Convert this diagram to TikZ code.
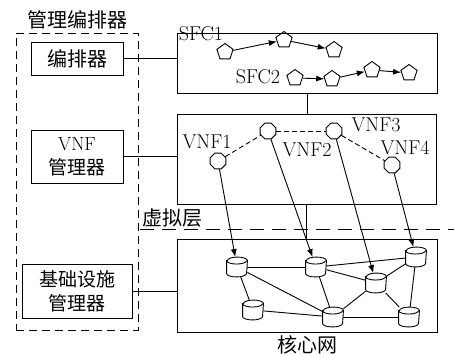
\documentclass[tikz,border=0pt]{standalone}
\usepackage{fontspec}
\newfontfamily\cjk{Noto Sans CJK SC}
\usetikzlibrary{shapes.geometric,arrows.meta,calc}
\begin{document}
\begin{tikzpicture}[x=1pt,y=1pt,
  font=\fontsize{20}{22}\selectfont,
  every path/.style={line width=0.9pt},
  box/.style={draw,rectangle,inner sep=0pt,align=center},
  pent/.style={draw,regular polygon,regular polygon sides=5,minimum size=17pt,inner sep=0pt},
  oct/.style={draw,regular polygon,regular polygon sides=8,minimum size=17pt,inner sep=0pt},
  db/.style={rectangle,minimum width=20pt,minimum height=19pt,inner sep=0pt},
  arr/.style={-{Latex[length=8pt,width=6pt]}},
  lbl/.style={inner sep=0pt}
]
\useasboundingbox (0,0) rectangle (454,-354);
% management/orchestration
\node[draw,dashed,dash pattern=on 8pt off 5pt,minimum width=122pt,minimum height=297pt,inner sep=0pt] (mano) at (77,-181.5) {};
\node[lbl] (manot) at (77,-20) {\cjk 管理编排器};
\node[box,minimum width=92pt,minimum height=33pt] (orch) at (77,-58.5) {\cjk 编排器};
\node[box,minimum width=92pt,minimum height=53pt,font=\fontsize{19}{20}\selectfont] (vnfm) at (77,-156.5) {VNF\\[4pt]{\cjk 管理器}};
\node[box,minimum width=110pt,minimum height=54pt,font=\fontsize{19}{20}\selectfont] (vim) at (77,-291) {{\cjk 基础设施}\\[4pt]{\cjk 管理器}};
% right boxes
\node[box,minimum width=260pt,minimum height=60pt] (sfc) at (307,-63) {};
\node[box,minimum width=259pt,minimum height=90pt] (vnf) at (306.5,-159) {};
\node[box,minimum width=260pt,minimum height=93pt] (net) at (307,-285.5) {};
\draw (orch.east) -- (orch.east -| sfc.west);
\draw (vnfm.east) -- (vnfm.east -| vnf.west);
\draw (vim.east) -- (vim.east -| net.west);
\draw (sfc.south) -- (sfc.south |- vnf.north);
\draw (vnf.south) -- (vnf.south |- net.north);
% virtual layer line
\coordinate (vl1) at (140,-229);
\coordinate (vl2) at (454,-229);
\draw[dashed,dash pattern=on 14pt off 8pt] (vl1) -- (vl2);
\node[lbl] (vlt) at (172,-218) {\cjk 虚拟层};
\node[lbl] (nett) at (307,-345) {\cjk 核心网};
% SFCs
\node[lbl] (sfc1) at (201,-34) {SFC1};
\node[lbl] (sfc2) at (258,-77) {SFC2};
\node[pent] (p1) at (225,-52) {};
\node[pent] (p2) at (284,-40) {};
\node[pent] (p3) at (334,-50) {};
\node[pent] (q1) at (295,-78) {};
\node[pent] (q2) at (332,-79) {};
\node[pent] (q3) at (372,-70) {};
\node[pent] (q4) at (409,-73) {};
\draw[arr] (p1) -- (p2);
\draw[arr] (p2) -- (p3);
\draw[arr] (q1) -- (q2);
\draw[arr] (q2) -- (q3);
\draw[arr] (q3) -- (q4);
% VNFs
\node[oct] (v1) at (218,-161) {};
\node[oct] (v2) at (268,-131) {};
\node[oct] (v3) at (334,-131) {};
\node[oct] (v4) at (392,-165) {};
\node[lbl] (v1t) at (207,-142) {VNF1};
\node[lbl] (v2t) at (307,-150) {VNF2};
\node[lbl] (v3t) at (376,-125) {VNF3};
\node[lbl] (v4t) at (405,-148) {VNF4};
\draw[dashed,dash pattern=on 5pt off 3pt] (v1) -- (v2);
\draw[dashed,dash pattern=on 5pt off 3pt] (v2) -- (v3);
\draw[dashed,dash pattern=on 5pt off 3pt] (v3) -- (v4);
% core network
\node[db] (A) at (237,-267) {};
\node[db] (B) at (316,-267) {};
\node[db] (C) at (416,-257) {};
\node[db] (D) at (376,-283) {};
\node[db] (E) at (253,-310) {};
\node[db] (F) at (333,-317) {};
\node[db] (G) at (409,-317) {};
\draw (A) -- (B);
\draw (A) -- (E);
\draw (A) -- (F);
\draw (B) -- (C);
\draw (B) -- (D);
\draw (B) -- (F);
\draw (C) -- (D);
\draw (C) -- (G);
\draw (D) -- (F);
\draw (D) -- (G);
\draw (E) -- (F);
\draw (F) -- (G);
\foreach \n in {A,B,C,D,E,F,G}{
  \filldraw[fill=white] ($(\n.north west)+(0,-3.5)$) -- ($(\n.south west)+(0,3.5)$)
    arc[start angle=180,end angle=360,x radius=10,y radius=3.5]
    -- ($(\n.north east)+(0,-3.5)$)
    arc[start angle=0,end angle=180,x radius=10,y radius=3.5] -- cycle;
  \draw ($(\n.north west)+(0,-3.5)$) arc[start angle=180,end angle=360,x radius=10,y radius=3.5];
}
% mapping arrows
\draw[arr] (v1) -- (A);
\draw[arr] (v2) -- (B);
\draw[arr] (v3) -- (D);
\draw[arr] (v4) -- (C);
\end{tikzpicture}
\end{document}
